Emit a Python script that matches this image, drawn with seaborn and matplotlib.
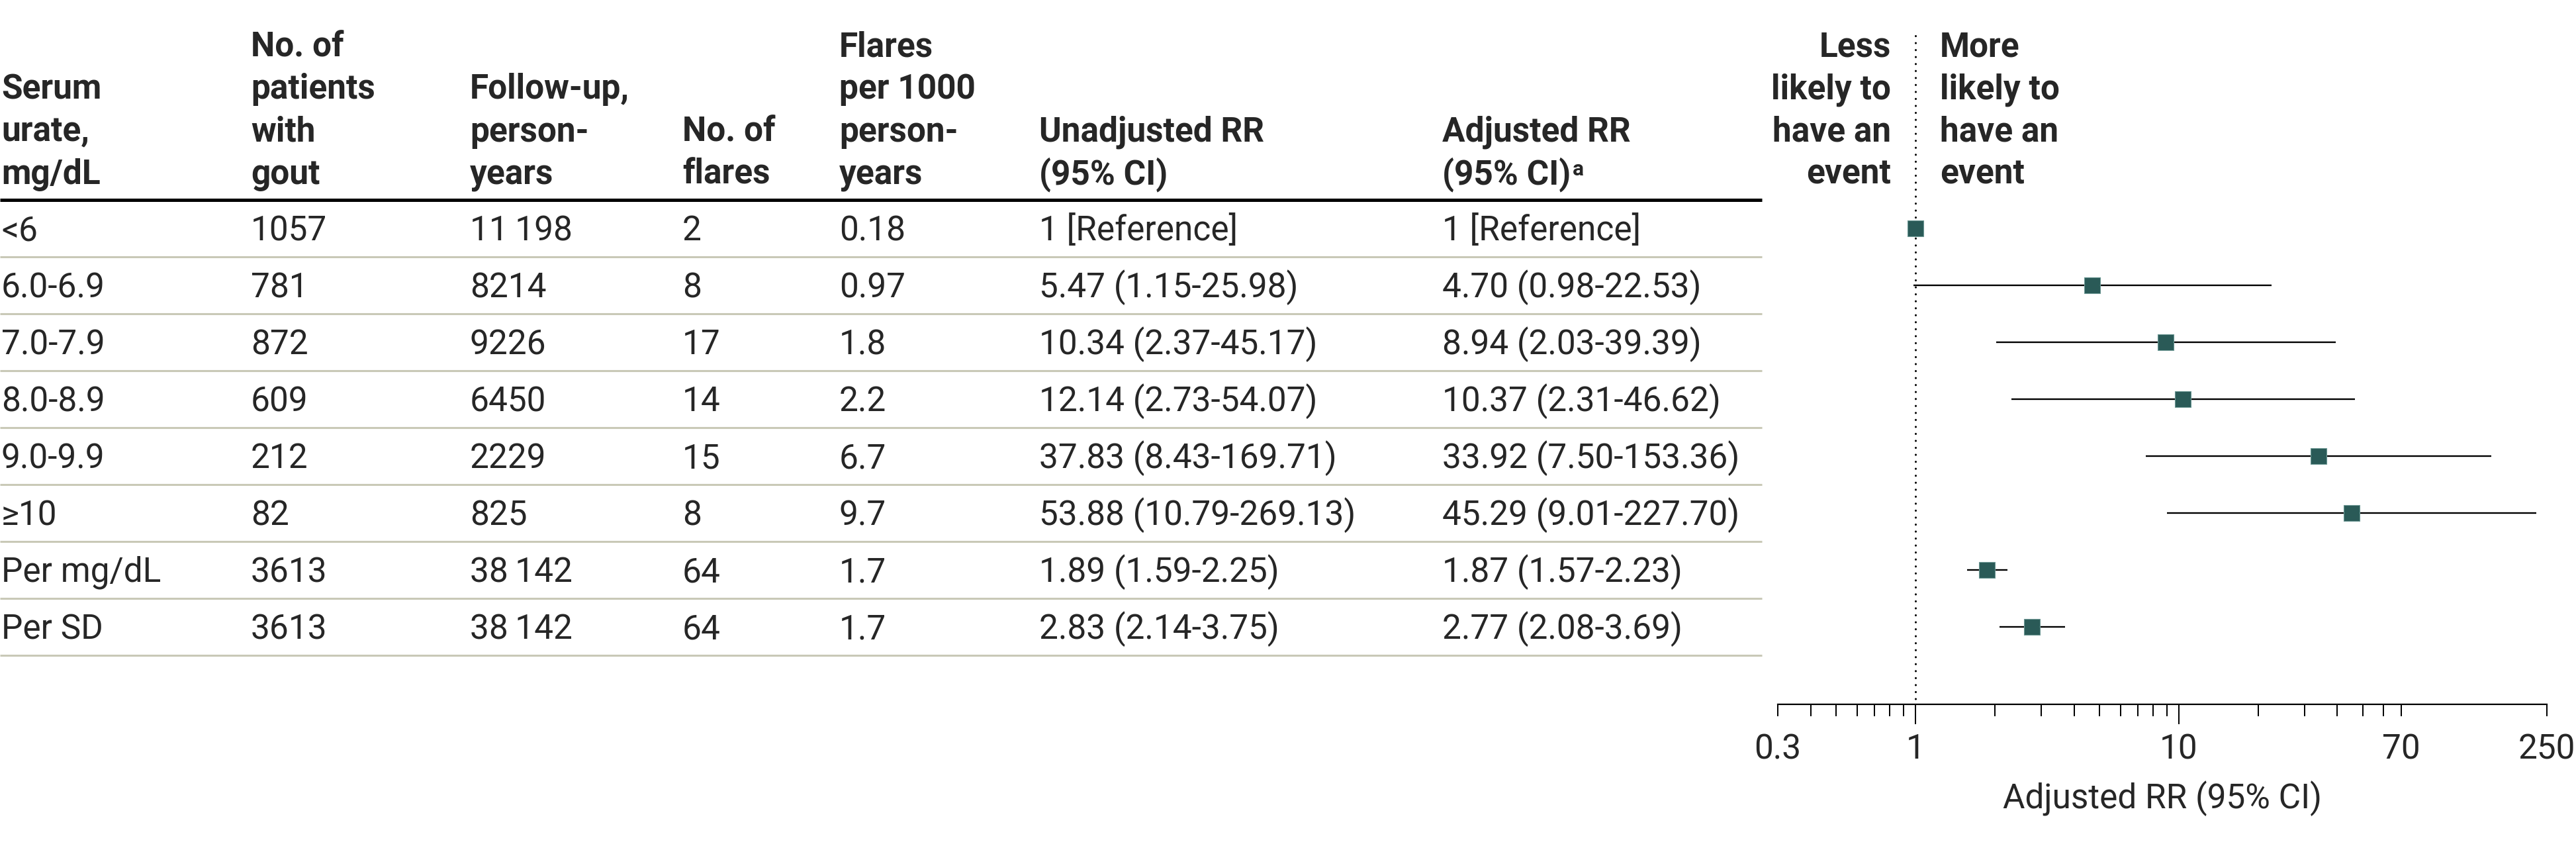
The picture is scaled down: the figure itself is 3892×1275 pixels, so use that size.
import matplotlib
matplotlib.use("Agg")
import matplotlib.pyplot as plt
import seaborn as sns
import numpy as np
import pandas as pd

# ---------------- data ----------------
serum = ["<6", "6.0-6.9", "7.0-7.9", "8.0-8.9", "9.0-9.9", "\u226510", "Per mg/dL", "Per SD"]
patients = ["1057", "781", "872", "609", "212", "82", "3613", "3613"]
followup = ["11\u2009198", "8214", "9226", "6450", "2229", "825", "38\u2009142", "38\u2009142"]
n_flares = ["2", "8", "17", "14", "15", "8", "64", "64"]
rate = ["0.18", "0.97", "1.8", "2.2", "6.7", "9.7", "1.7", "1.7"]
unadj_txt = ["1 [Reference]", "5.47 (1.15-25.98)", "10.34 (2.37-45.17)", "12.14 (2.73-54.07)",
             "37.83 (8.43-169.71)", "53.88 (10.79-269.13)", "1.89 (1.59-2.25)", "2.83 (2.14-3.75)"]
adj_txt = ["1 [Reference]", "4.70 (0.98-22.53)", "8.94 (2.03-39.39)", "10.37 (2.31-46.62)",
           "33.92 (7.50-153.36)", "45.29 (9.01-227.70)", "1.87 (1.57-2.23)", "2.77 (2.08-3.69)"]
adj_rr = [1.0, 4.70, 8.94, 10.37, 33.92, 45.29, 1.87, 2.77]
adj_lo = [np.nan, 0.98, 2.03, 2.31, 7.50, 9.01, 1.57, 2.08]
adj_hi = [np.nan, 22.53, 39.39, 46.62, 153.36, 227.70, 2.23, 3.69]

headers = [
    ["Serum", "urate,", "mg/dL"],
    ["No. of", "patients", "with", "gout"],
    ["Follow-up,", "person-", "years"],
    ["No. of", "flares"],
    ["Flares", "per 1000", "person-", "years"],
    ["Unadjusted RR", "(95% CI)"],
    ["Adjusted RR", "(95% CI)"],
]
less_txt = ["Less", "likely to", "have an", "event"]
more_txt = ["More", "likely to", "have an", "event"]
major_ticks = [0.3, 1, 10, 70, 250]
tick_labels = ["0.3", "1", "10", "70", "250"]
minor_ticks = [0.4, 0.5, 0.6, 0.7, 0.8, 0.9, 2, 3, 4, 5, 6, 7, 8, 9, 20, 30, 40, 50, 60]

# ---------------- style ----------------
sns.set_theme(style="white")
plt.rcParams["font.family"] = ["Roboto", "Liberation Sans", "DejaVu Sans"]
FS = 37
W, H = 3892, 1275
BLACK = "black"
GREY = "#c9c9b7"
TEAL = "#2a5a57"

fig = plt.figure(figsize=(W / 100, H / 100), dpi=100)
fig.patch.set_facecolor("white")

# table layer in pixel coordinates
tab = fig.add_axes([0, 0, 1, 1])
tab.set_xlim(0, W)
tab.set_ylim(H, 0)
tab.axis("off")
tab.patch.set_alpha(0)

col_x = [2, 379, 710, 1031, 1268, 1570, 2179]
table_right = 2662
row0, row_h = 345, 86
nrows = len(serum)
row_c = [row0 + row_h * i for i in range(nrows)]
head_base = 278
head_step = 64.3

for x, lines in zip(col_x, headers):
    n = len(lines)
    for k, ln in enumerate(lines):
        t = tab.text(x, head_base - head_step * (n - 1 - k), ln, fontsize=FS,
                     fontweight="bold", ha="left", va="baseline")
    last = t
# superscript a for adjusted column
tab.annotate("a", xy=(1.0, 0.93), xycoords=last, xytext=(2, 0), textcoords="offset points",
             fontsize=FS * 0.62, fontweight="bold", ha="left", va="top")

tab.hlines(302, 0, table_right, color=BLACK, lw=3.6)
cols = [serum, patients, followup, n_flares, rate, unadj_txt, adj_txt]
for i in range(nrows):
    for x, col in zip(col_x, cols):
        tab.text(x, row_c[i] + 18, col[i], fontsize=FS, ha="left", va="baseline")
    tab.hlines(row_c[i] + row_h / 2, 0, table_right, color=GREY, lw=2.2)

for k, ln in enumerate(less_txt):
    tab.text(2857, 85 + head_step * k, ln, fontsize=FS, fontweight="bold", ha="right", va="baseline")
for k, ln in enumerate(more_txt):
    tab.text(2931, 85 + head_step * k, ln, fontsize=FS, fontweight="bold", ha="left", va="baseline")

# ---------------- forest plot ----------------
ax_left, ax_right, ax_bottom_px = 2686, 3848, 1064
ax = fig.add_axes([ax_left / W, (H - ax_bottom_px) / H, (ax_right - ax_left) / W, ax_bottom_px / H])
ax.patch.set_alpha(0)
df = pd.DataFrame({"row": np.arange(nrows), "rr": adj_rr, "lo": adj_lo, "hi": adj_hi})

y_bot = (ax_bottom_px - row0) / row_h
y_top = -row0 / row_h
ax.plot([1, 1], [(54 - row0) / row_h, y_bot], color=BLACK, lw=2.2,
        linestyle=(0, (0.05, 3.4)), dash_capstyle="round", zorder=1, clip_on=False)
ci = df.dropna()
ax.hlines(ci["row"], ci["lo"], ci["hi"], color=BLACK, lw=1.7, zorder=2)
sns.scatterplot(data=df, x="rr", y="row", marker="s", s=300, color=TEAL,
                edgecolor="#6d9894", linewidth=0.8, ax=ax, zorder=3, legend=False)

ax.set_xscale("log")
ax.set_xlim(0.3, 250)
ax.set_ylim(y_bot, y_top)
ax.set_yticks([])
ax.set_ylabel("")
for s in ["left", "top", "right"]:
    ax.spines[s].set_visible(False)
ax.spines["bottom"].set_color(BLACK)
ax.spines["bottom"].set_linewidth(1.6)

ax.set_xticks(major_ticks)
ax.set_xticklabels(tick_labels)
ax.set_xticks(minor_ticks, minor=True)
ax.xaxis.set_minor_formatter(matplotlib.ticker.NullFormatter())
ax.tick_params(axis="x", which="both", direction="out", length=13, width=1.44,
               color=BLACK, labelsize=FS, pad=18, bottom=True)
for tk, v in zip(ax.xaxis.get_major_ticks(), major_ticks):
    if v in (1, 10):
        tk.tick1line.set_markersize(21.6)
ax.set_xlabel("Adjusted RR (95% CI)", fontsize=FS, labelpad=16)

fig.savefig("out.png", dpi=100, facecolor="white")
